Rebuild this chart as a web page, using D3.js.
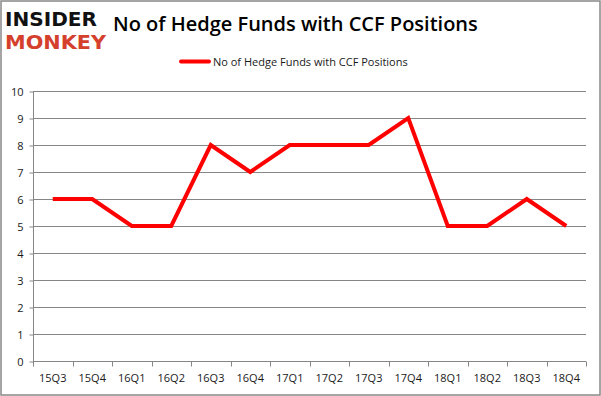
<!DOCTYPE html>
<html>
<head>
<meta charset="utf-8">
<script src="https://cdn.jsdelivr.net/npm/d3@7"></script>
<style>
  body { margin: 0; background: #fff; }
  svg { display: block; }
</style>
</head>
<body>
<div id="vis"></div>
<script>
// chart data
const QUARTERS = ["15Q3", "15Q4", "16Q1", "16Q2", "16Q3", "16Q4", "17Q1", "17Q2",
                  "17Q3", "17Q4", "18Q1", "18Q2", "18Q3", "18Q4"];
const FUNDS = [6, 6, 5, 5, 8, 7, 8, 8, 8, 9, 5, 5, 6, 5];
const Y_TICKS = [0, 1, 2, 3, 4, 5, 6, 7, 8, 9, 10];
const SERIES_NAME = "No of Hedge Funds with CCF Positions";
const TITLE = "No of Hedge Funds with CCF Positions";

const FRAME_WIDTH = 601;
const FRAME_HEIGHT = 396;
const PLOT = {left: 33, right: 586, top: 91, bottom: 361};
const FONT = "'Open Sans', 'Liberation Sans', sans-serif";

const FRAME = d3.select("#vis")
  .append("svg")
  .attr("width", FRAME_WIDTH)
  .attr("height", FRAME_HEIGHT);

// outer border
FRAME.append("rect")
  .attr("x", 1).attr("y", 1)
  .attr("width", FRAME_WIDTH - 2).attr("height", FRAME_HEIGHT - 2)
  .attr("fill", "none")
  .attr("stroke", "#888")
  .attr("stroke-width", 1.5);

// scales
const X_SCALE = d3.scaleBand()
  .domain(QUARTERS)
  .range([PLOT.left, PLOT.right]);

const Y_SCALE = d3.scaleLinear()
  .domain([0, 10])
  .range([PLOT.bottom, PLOT.top]);

// horizontal gridlines
FRAME.append("g")
  .selectAll("line")
  .data(Y_TICKS.filter(d => d > 0))
  .enter()
  .append("line")
  .attr("x1", PLOT.left)
  .attr("x2", PLOT.right)
  .attr("y1", d => Math.round(Y_SCALE(d)) + 0.5)
  .attr("y2", d => Math.round(Y_SCALE(d)) + 0.5)
  .attr("stroke", "#868686")
  .attr("stroke-width", 1);

// y axis
const yAxis = FRAME.append("g")
  .attr("transform", "translate(" + (PLOT.left + 0.5) + ",0.5)")
  .call(d3.axisLeft(Y_SCALE).tickValues(Y_TICKS).tickSize(4).tickPadding(6)
        .tickFormat(d3.format("d")));
yAxis.selectAll("line, path").attr("stroke", "#868686");
yAxis.select(".domain").attr("d", "M0," + PLOT.top + "V" + PLOT.bottom);
yAxis.selectAll("text")
  .attr("font-family", FONT)
  .attr("font-size", "11px")
  .attr("fill", "#1a1a1a");

// x axis with ticks at category boundaries
const xAxis = FRAME.append("g")
  .attr("transform", "translate(0," + (Math.round(PLOT.bottom) + 0.5) + ")");
xAxis.append("line")
  .attr("x1", PLOT.left).attr("x2", PLOT.right)
  .attr("stroke", "#868686");
const bounds = QUARTERS.map(d => X_SCALE(d)).concat([PLOT.right]);
xAxis.selectAll(".tk")
  .data(bounds)
  .enter()
  .append("line")
  .attr("class", "tk")
  .attr("x1", d => Math.round(d) + 0.5)
  .attr("x2", d => Math.round(d) + 0.5)
  .attr("y1", 0).attr("y2", 5)
  .attr("stroke", "#868686");
xAxis.selectAll("text")
  .data(QUARTERS)
  .enter()
  .append("text")
  .attr("x", d => X_SCALE(d) + X_SCALE.bandwidth() / 2)
  .attr("y", 20)
  .attr("text-anchor", "middle")
  .attr("font-family", FONT)
  .attr("font-size", "11px")
  .attr("fill", "#1a1a1a")
  .text(d => d);

// the series line
const line = d3.line()
  .x((d, i) => X_SCALE(QUARTERS[i]) + X_SCALE.bandwidth() / 2)
  .y(d => Y_SCALE(d));

FRAME.append("path")
  .datum(FUNDS)
  .attr("d", line)
  .attr("fill", "none")
  .attr("stroke", "#ff0000")
  .attr("stroke-width", 4)
  .attr("stroke-linejoin", "miter");

// title
FRAME.append("text")
  .attr("x", 113)
  .attr("y", 31)
  .attr("font-family", FONT)
  .attr("font-size", "20px")
  .attr("font-weight", "600")
  .attr("fill", "#000")
  .text(TITLE);

// legend
FRAME.append("line")
  .attr("x1", 181).attr("x2", 209)
  .attr("y1", 61.5).attr("y2", 61.5)
  .attr("stroke", "#ff0000")
  .attr("stroke-width", 4)
  .attr("stroke-linecap", "round");
FRAME.append("text")
  .attr("x", 213)
  .attr("y", 65.5)
  .attr("font-family", FONT)
  .attr("font-size", "11px")
  .attr("fill", "#1a1a1a")
  .text(SERIES_NAME);

// logo
FRAME.append("text")
  .attr("x", 5).attr("y", 25.5)
  .attr("font-family", "'DejaVu Sans', sans-serif")
  .attr("font-size", "20px")
  .attr("font-weight", "bold")
  .attr("textLength", 92)
  .attr("lengthAdjust", "spacingAndGlyphs")
  .attr("fill", "#111")
  .text("INSIDER");
FRAME.append("text")
  .attr("x", 5).attr("y", 49)
  .attr("font-family", "'DejaVu Sans', sans-serif")
  .attr("font-size", "20px")
  .attr("font-weight", "bold")
  .attr("textLength", 101)
  .attr("lengthAdjust", "spacingAndGlyphs")
  .attr("fill", "#d4402c")
  .text("MONKEY");
</script>
</body>
</html>
